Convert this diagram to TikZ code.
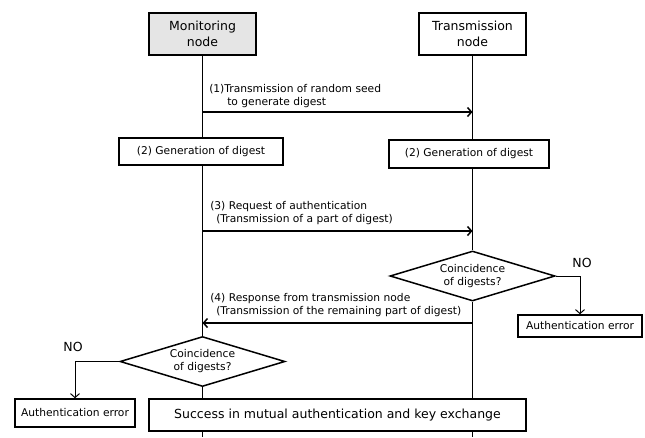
\documentclass[tikz,border=0pt]{standalone}
\usepackage{fontspec}
\setmainfont{DejaVu Sans}
\usetikzlibrary{shapes.geometric,arrows.meta}
\tikzset{
  box/.style={draw, line width=1.5pt, fill=white, inner sep=0pt, font=\fontsize{10.7}{13}\selectfont},
  head/.style={box, minimum width=107pt, minimum height=42pt, align=center, font=\fontsize{12.5}{16}\selectfont},
  check/.style={box, diamond, aspect=3.4, minimum width=165pt, minimum height=50pt, align=center},
  msg/.style={-{Straight Barb[length=4pt,width=9pt]}, line width=1.5pt},
  life/.style={line width=1.5pt},
  lbl/.style={anchor=south west, inner sep=1pt, align=left, font=\fontsize{10.7}{13}\selectfont},
  no/.style={font=\fontsize{12.5}{15}\selectfont}
}
\begin{document}
\begin{tikzpicture}[x=1pt,y=-1pt]
\useasboundingbox (0,0) rectangle (645,437);
\node[head, fill=black!10] (monitor) at (202.5,34) {Monitoring\\node};
\node[head] (trans) at (472.5,34) {Transmission\\node};
\node[box, minimum width=164pt, minimum height=27pt] (genL) at (201,151.5) {(2) Generation of digest};
\node[box, minimum width=160pt, minimum height=28pt] (genR) at (469,154) {(2) Generation of digest};
\node[check] (chkR) at (472.5,276) {Coincidence\\of digests?};
\node[box, minimum width=124pt, minimum height=22pt] (errR) at (580,326) {Authentication error};
\node[no] (noR) at (582,263) {NO};
\node[check] (chkL) at (202.5,361.5) {Coincidence\\of digests?};
\node[box, minimum width=120pt, minimum height=28pt] (errL) at (75,413) {Authentication error};
\node[no] (noL) at (73,347) {NO};
\node[box, minimum width=377pt, minimum height=32pt, font=\fontsize{12.5}{15}\selectfont] (success) at (337.5,415) {Success in mutual authentication and key exchange};
\coordinate (monEnd) at (202.5,437);
\coordinate (trEnd) at (472.5,437);
% lifelines
\draw[life] (monitor.south) -- (genL.north -| monitor.south);
\draw[life] (genL.south -| monitor.south) -- (chkL.north);
\draw[life] (chkL.south) -- (success.north -| chkL.south);
\draw[life] (success.south -| monEnd) -- (monEnd);
\draw[life] (trans.south) -- (genR.north -| trans.south);
\draw[life] (genR.south -| trans.south) -- (chkR.north);
\draw[life] (chkR.south) -- (success.north -| chkR.south);
\draw[life] (success.south -| trEnd) -- (trEnd);
% messages
\coordinate (m1) at (202.5,112);
\coordinate (t1) at (472.5,112);
\coordinate (m3) at (202.5,231);
\coordinate (t3) at (472.5,231);
\coordinate (m4) at (202.5,323);
\coordinate (t4) at (472.5,323);
\draw[msg] (m1) -- (t1) node[pos=0, lbl, xshift=5pt, yshift=3pt] {(1)Transmission of random seed\\\hspace*{18pt}to generate digest};
\draw[msg] (m3) -- (t3) node[pos=0, lbl, xshift=6pt, yshift=5pt] {(3) Request of authentication\\\hspace*{6pt}(Transmission of a part of digest)};
\draw[msg] (t4) -- (m4) node[pos=1, lbl, xshift=6pt, yshift=5pt] {(4) Response from transmission node\\\hspace*{6pt}(Transmission of the remaining part of digest)};
% NO branches
\draw[msg, line width=1pt] (chkR.east) -| (errR.north);
\draw[msg, line width=1pt] (chkL.west) -| (errL.north);
\end{tikzpicture}
\end{document}
